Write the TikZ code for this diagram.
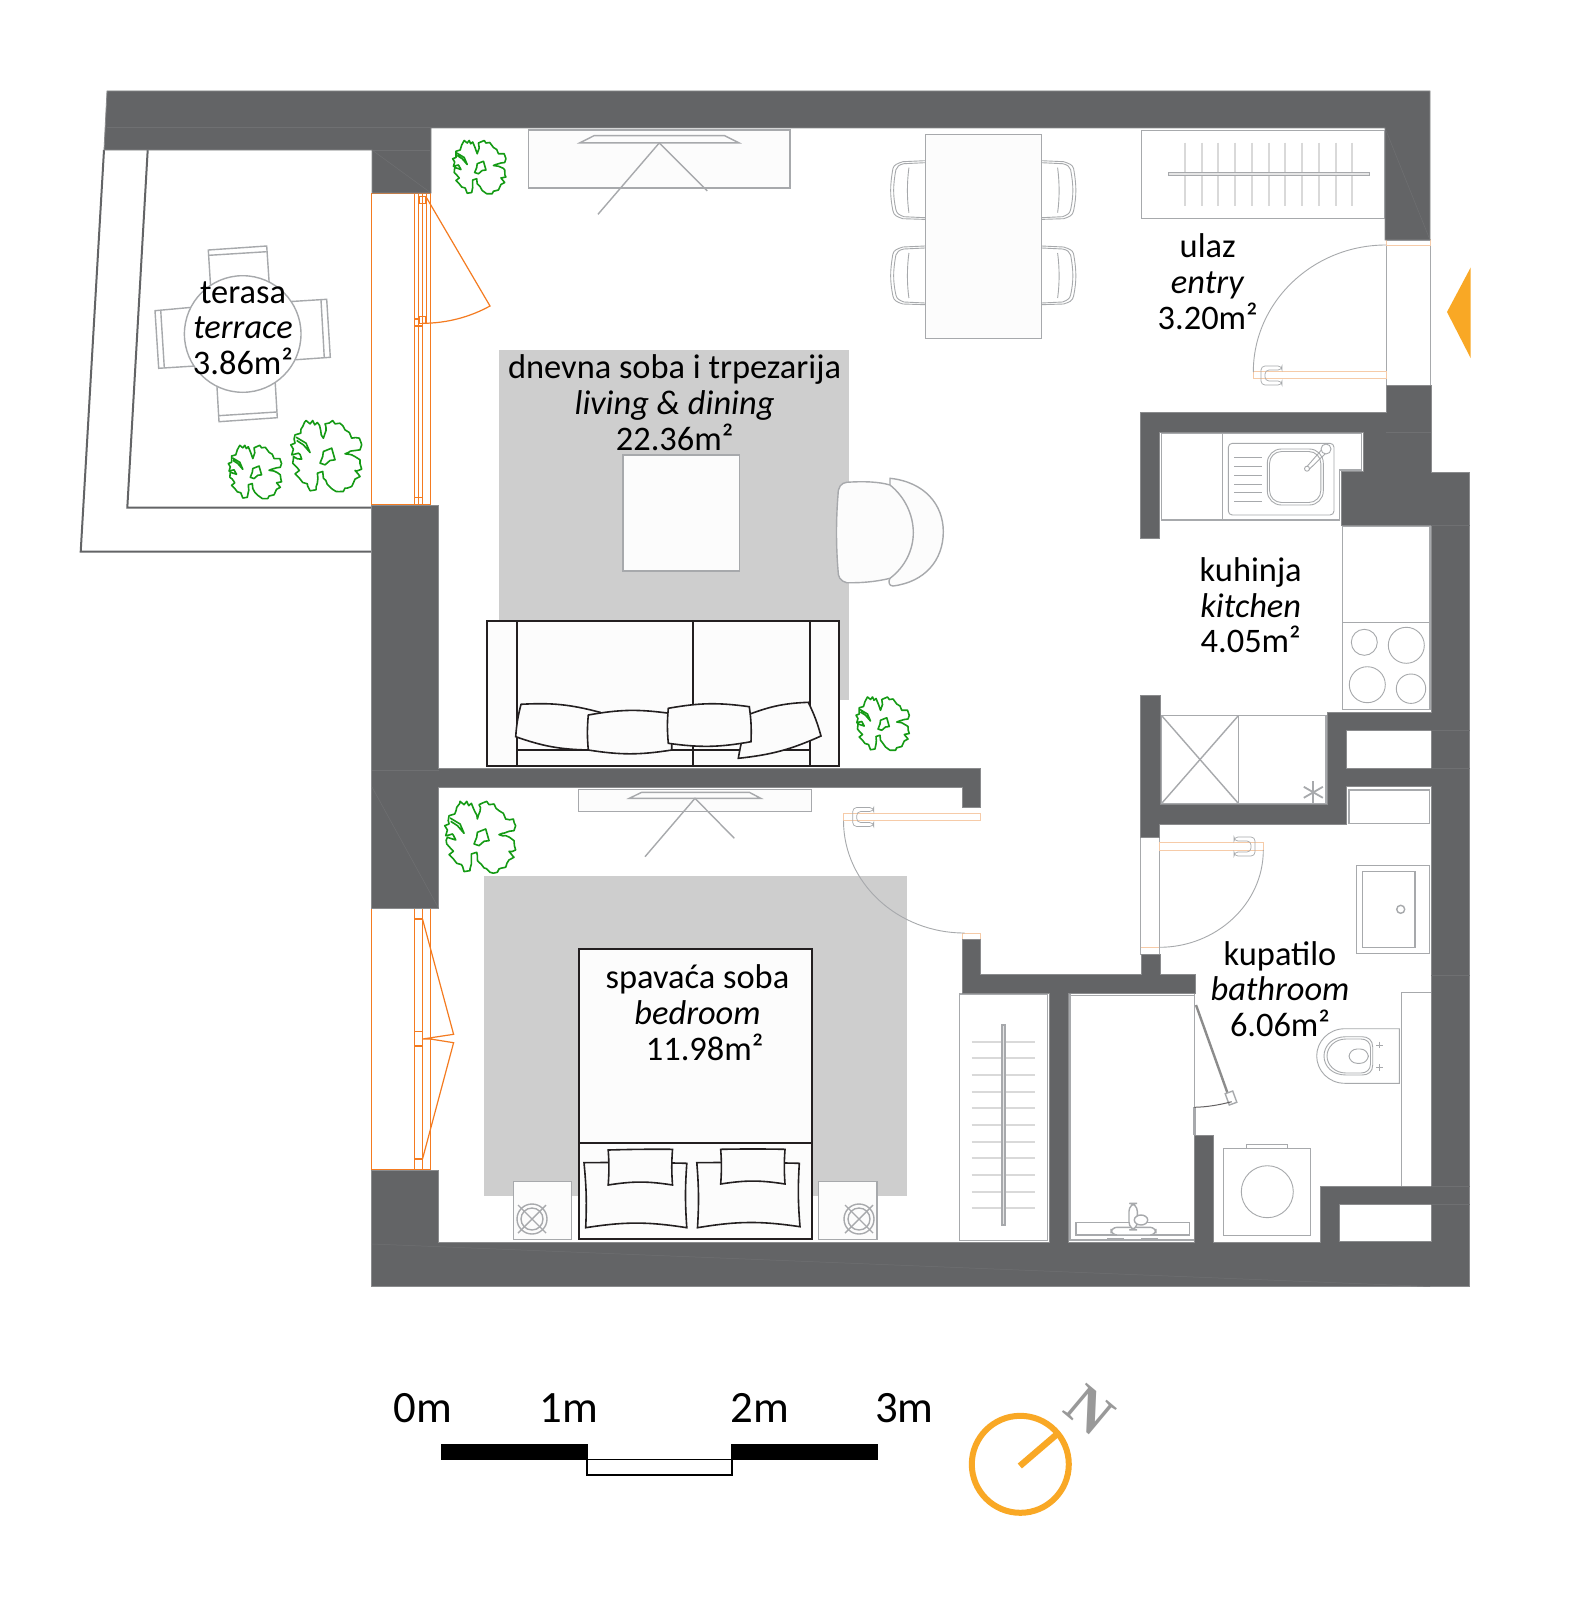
\documentclass[tikz,border=0pt]{standalone}
\usepackage{fontspec}
\usetikzlibrary{decorations.pathmorphing}
\setmainfont{Carlito}
\newfontfamily\northfont{Liberation Serif}
\definecolor{wallgray}{HTML}{636466}
\definecolor{walledge}{HTML}{8A8B8D}
\definecolor{wallseam}{HTML}{6F7072}
\definecolor{furngray}{HTML}{A7A9AC}
\definecolor{ruggray}{HTML}{CECECE}
\definecolor{paper}{HTML}{FCFCFC}
\definecolor{winorange}{HTML}{F47B20}
\definecolor{leaforange}{HTML}{F6CBA8}
\definecolor{markorange}{HTML}{F9A825}
\definecolor{plantgreen}{HTML}{149A14}
\definecolor{inkblack}{HTML}{231F20}

\newcommand{\pillow}[4]{\draw[pillow] (#1) to[bend left=9] (#2) to[bend left=5] (#3) to[bend left=9] (#4) to[bend left=5] cycle;}
\newcommand{\bedpillow}[4]{\draw[pillow] (#1) to[bend left=1] (#2) to[bend right=4] (#3) to[bend right=9] (#4) to[bend right=4] cycle;}

\tikzset{
    plant/.pic = {
        \draw[plantline, shift={(-140,-140)}, decorate, decoration={random steps, segment length=2.2pt, amplitude=0.5pt}] (45,75) -- (62,70) -- (68,50) -- (78,32) -- (90,42) -- (98,32) -- (104,45) -- (112,38) -- (122,62) -- (130,85) -- (138,62) -- (135,42) -- (158,32) -- (165,42) -- (180,40) -- (195,60) -- (208,68) -- (215,85) -- (238,85) -- (245,105) -- (240,120) -- (225,122) -- (205,128) -- (195,132) -- (215,135) -- (240,150) -- (245,178) -- (225,182) -- (240,200) -- (225,208) -- (215,230) -- (195,235) -- (190,245) -- (168,245) -- (150,232) -- (130,205) -- (128,185) -- (112,190) -- (112,220) -- (108,240) -- (90,243) -- (82,222) -- (68,218) -- (58,205) -- (45,192) -- (58,182) -- (38,160) -- (40,140) -- (65,148) -- (55,130) -- (35,135) -- (40,118) -- (32,105) -- (45,100) -- cycle;
        \draw[plantline, shift={(-140,-140)}] (120,160) -- (128,140) -- (130,125) -- (155,115) -- (165,150) -- (150,152) -- (135,165) -- cycle;
        \draw[plantline, shift={(-140,-140)}] (48,82) -- (78,100) -- (90,128) -- (70,105) -- (50,92);
    },
    doorhandle/.pic = {
        \draw[thinfurn, line width=0.35pt, rounded corners=2pt] (21,0) -- (0,0) -- (0,19) -- (21,19) -- (21,15) -- (4,15) -- (4,4) -- (21,4) -- cycle;
    },
    diningchair/.pic = {
        \draw[thinfurn] (0,0) -- (-22,1) .. controls (-28,3) and (-31,4) .. (-32,8) .. controls (-35,25) and (-35,35) .. (-32,50) .. controls (-31,55) and (-28,56) .. (-22,58) -- (0,58.7);
        \draw[thinfurn] (0,2) -- (-21,3) .. controls (-26,4) and (-28,6) .. (-29,9) .. controls (-32,25) and (-32,35) .. (-29,49) .. controls (-28,53) and (-26,54) .. (-21,56) -- (0,57);
        \draw[thinfurn] (-16,7) .. controls (-18,22) and (-18,38) .. (-16,52);
    },
    nightlamp/.pic = {
        \draw[furn] (0,0) circle[radius=15];
        \draw[furn] (0,0) circle[radius=11];
        \draw[furn] (-14,-14) -- (14,14);
        \draw[furn] (-14,14) -- (14,-14);
    }
}

\begin{document}
\begin{tikzpicture}[
        x = 0.5pt,
        y = -0.5pt,
        wall/.style = {fill=wallgray, draw=walledge, line width=0.4pt},
        seam/.style = {draw=wallseam, line width=0.25pt},
        rug/.style = {fill=ruggray},
        furn/.style = {draw=furngray, line width=0.7pt},
        thinfurn/.style = {draw=furngray, line width=0.45pt},
        panel/.style = {furn, fill=paper},
        blackfurn/.style = {draw=inkblack, line width=0.9pt, fill=paper},
        pillow/.style = {draw=inkblack, line width=0.8pt, fill=paper},
        hanger/.style = {draw=black!15, line width=1pt},
        winline/.style = {draw=winorange, line width=0.6pt},
        leafline/.style = {draw=leaforange, line width=0.5pt},
        plantline/.style = {draw=plantgreen, line width=0.8pt, line join=round},
        terraceline/.style = {draw=wallgray, line width=1pt},
        roomlabel/.style = {font=\fontsize{17.2}{17.85}\selectfont, align=center, inner sep=0pt},
        scalelabel/.style = {font=\fontsize{22.4}{23}\selectfont, inner sep=0pt}
    ]
    \fill[white] (0,0) rectangle (1583,1600);

    % rugs
    \fill[rug] (499,350) rectangle (849,700);
    \fill[rug] (484,875.5) rectangle (906.5,1196);

    % terrace
    \draw[terraceline] (104,150) -- (80.7,551.7) -- (372,551.7);
    \draw[terraceline] (147.7,150) -- (127.3,507.7) -- (372,507.7);
    \draw[furn] (208.3,250) -- (266.7,246) -- (269.3,285) -- (210.7,288) -- cycle;
    \draw[furn] (209,255.3) -- (266.7,251.7);
    \draw[furn] (216.7,382) -- (219,421.7) -- (277.3,417.7) -- (275,379) -- cycle;
    \draw[furn] (218.3,415.7) -- (276.7,412);
    \draw[furn] (155,310.7) -- (158.7,368.3) -- (195,366) -- (192,307.3) -- cycle;
    \draw[furn] (160.7,310) -- (164.3,367.7);
    \draw[furn] (288,301.7) -- (326.7,299.3) -- (330.3,357.3) -- (292,360) -- cycle;
    \draw[furn] (321,300) -- (324.3,358);
    \draw[furn, fill=white] (242.7,334) circle[radius=58.3];

    % living room
    \draw[panel] (528.5,130) rectangle (790,188);
    \draw[furn] (579.7,142.9) -- (594,135.7) -- (724.6,135.7) -- (739,142.9) -- cycle;
    \draw[furn] (598,214.3) -- (659.3,142.9) -- (707.3,190.9);
    \draw[panel] (623,455) rectangle (739.3,571);
    \draw[panel] (890,478.3) .. controls (925,482) and (943.3,505) .. (943.3,531.7) .. controls (943.3,560) and (925,582) .. (893,586) .. controls (889,586) and (888,582) .. (890,578) -- cycle;
    \draw[panel] (846.7,482.3) .. controls (865,481) and (880,482) .. (890,485) .. controls (905,497) and (913.3,515) .. (913.3,532.7) .. controls (913.3,550) and (905,567) .. (890,578.3) .. controls (875,582) and (860,583) .. (846.7,582.7) .. controls (840,581) and (838,577) .. (838,570) .. controls (836,545) and (836,520) .. (838,495) .. controls (838,487) and (841,483) .. (846.7,482.3) -- cycle;
    \draw[blackfurn] (486.7,620.7) rectangle (839.3,766.3);
    \draw[blackfurn, fill=none] (516.7,620.7) -- (516.7,766.3);
    \draw[blackfurn, fill=none] (693.3,620.7) -- (693.3,766.3);
    \draw[blackfurn, fill=none] (810,620.7) -- (810,766.3);
    \draw[blackfurn, fill=none] (516.7,750.3) -- (810,750.3);
    \pillow{521,704.3}{600,712.3}{588.3,750}{515.7,736.7}
    \pillow{750,714}{808.3,702.3}{821,736}{738.3,758.3}
    \pillow{588.3,715}{669.3,713.3}{671.7,750}{588.3,750}
    \pillow{668.3,708.3}{749.3,706.7}{751,741.7}{668.3,743.3}
    \draw[panel, draw=furngray, line width=0.5pt] (925,134.3) rectangle (1041.6,338.7);
    \pic at (924.9,160.7) {diningchair};
    \pic at (924.9,246) {diningchair};
    \pic[xscale=-1] at (1041.6,160.7) {diningchair};
    \pic[xscale=-1] at (1041.6,246) {diningchair};

    % entry
    \draw[furn] (1141.6,130.7) rectangle (1384.4,218.3);
    \foreach \i in {0,...,10} {
        \draw[hanger] ({1185+16.73*\i},142.7) -- ({1185+16.73*\i},205.7);
    }
    \draw[furn, fill=black!10] (1168.4,172.5) rectangle (1369.2,175.5);
    \draw[thinfurn] (1386,240) rectangle (1430.3,385);
    \draw[leafline] (1386,239) rectangle (1430.3,245);
    \draw[leafline] (1253.3,371.3) rectangle (1386.3,378.3);
    \draw[thinfurn] (1386,245) .. controls (1313,245) and (1253.3,302) .. (1253.3,372);
    \pic at (1261,366) {doorhandle};
    \fill[markorange] (1447,312) -- (1470.7,267.4) -- (1470.7,358.2) -- cycle;

    % kitchen
    \draw[furn, fill=white] (1161.7,433.3) -- (1361.7,433.3) -- (1361.7,470) -- (1339.3,470) -- (1339.3,520) -- (1161.7,520) -- cycle;
    \draw[thinfurn] (1222.5,433.3) -- (1222.5,520);
    \draw[thinfurn, rounded corners=2pt] (1228.3,443.3) rectangle (1334,515);
    \draw[thinfurn, rounded corners=7pt] (1267.3,449) rectangle (1323.3,505);
    \draw[thinfurn, rounded corners=6pt] (1269.5,451.5) rectangle (1320.8,502.5);
    \foreach \y in {457.7,466.7,475.3,484,492.7,501.3} {
        \draw[thinfurn] (1234,\y) -- (1262,\y);
    }
    \draw[thinfurn] (1307,466.5) -- (1324,447);
    \draw[thinfurn] (1308.5,470) -- (1328,451);
    \draw[thinfurn, fill=white] (1326,449) circle[radius=5];
    \draw[thinfurn, fill=white] (1307,468.7) circle[radius=2.5];
    \draw[furn] (1342.3,526) rectangle (1430,709.3);
    \draw[thinfurn] (1342.3,622) -- (1430,622);
    \draw[thinfurn] (1364.3,642.3) circle[radius=13];
    \draw[thinfurn] (1406.3,645.3) circle[radius=18];
    \draw[thinfurn] (1367.3,684.7) circle[radius=18];
    \draw[thinfurn] (1411,688.7) circle[radius=14.7];
    \draw[furn] (1161.7,715.7) rectangle (1326,803.3);
    \draw[thinfurn] (1238.3,715.7) -- (1238.3,803.3);
    \draw[furn] (1161.7,715.7) -- (1238.3,803.3);
    \draw[furn] (1161.7,803.3) -- (1238.3,715.7);
    \foreach \a in {90,30,150} {
        \draw[furn, line width=0.9pt, shift={(1313.3,792.3)}] (\a:11) -- (\a+180:11);
    }
    \draw[furn] (1349,790) rectangle (1429.3,823.3);

    % bathroom
    \draw[thinfurn] (1140.7,836.7) rectangle (1159.3,954);
    \draw[leafline] (1159.3,842.7) rectangle (1263.3,850.7);
    \draw[leafline] (1140.7,947.5) -- (1159.3,947.5);
    \draw[thinfurn] (1263.3,850) .. controls (1263.3,904) and (1216,947.3) .. (1159.3,947.3);
    \pic[xscale=-1] at (1255,837) {doorhandle};
    \draw[furn] (1356.7,865.7) rectangle (1429.3,953.3);
    \draw[furn] (1362.3,871.7) rectangle (1415,947.3);
    \draw[furn] (1400.7,909.3) circle[radius=4];
    \draw[furn] (1431,992.7) -- (1401.7,992.7) -- (1401.7,1186);
    \draw[thinfurn] (1399.3,1028.7) -- (1345,1028.7) .. controls (1328,1028.7) and (1316.7,1042) .. (1316.7,1056) .. controls (1316.7,1070) and (1328,1083.3) .. (1345,1083.3) -- (1399.3,1083.3) -- cycle;
    \draw[thinfurn] (1372.7,1047) .. controls (1372.7,1040) and (1368,1036.7) .. (1362,1036.7) -- (1346,1036.7) .. controls (1332,1036.7) and (1324,1046) .. (1324,1056) .. controls (1324,1066) and (1332,1075) .. (1346,1075) -- (1362,1075) .. controls (1368,1075) and (1372.7,1072) .. (1372.7,1065) -- cycle;
    \draw[thinfurn] (1370.5,1048) .. controls (1370.5,1042) and (1366,1039) .. (1361,1039) -- (1346,1039) .. controls (1335,1039) and (1327,1047) .. (1327,1056) .. controls (1327,1065) and (1335,1073) .. (1346,1073) -- (1361,1073) .. controls (1366,1073) and (1370.5,1070) .. (1370.5,1064) -- cycle;
    \draw[thinfurn, rounded corners=4pt] (1349,1049) rectangle (1368.3,1063.3);
    \foreach \y in {1045,1067.3} {
        \draw[thinfurn] (1376,\y) -- (1382.6,\y);
        \draw[thinfurn] (1379.3,\y-3.3) -- (1379.3,\y+3.3);
    }
    \draw[thinfurn] (1223.3,1148.3) rectangle (1310.7,1235.3);
    \draw[thinfurn] (1246.7,1148.3) rectangle (1287.3,1144.7);
    \draw[thinfurn] (1267.3,1191.7) circle[radius=26];

    % shower
    \draw[furn] (1070,994) -- (1070,1240) -- (1194.3,1240);
    \draw[furn] (1070,995.5) -- (1194.3,995.5);
    \draw[furn] (1194.3,993.3) -- (1194.3,1135);
    \draw[furn, line width=1.2pt] (1194.3,1107.3) -- (1194.3,1135);
    \draw[furn, draw=black!45, line width=1.2pt] (1196,1005) -- (1230,1100);
    \draw[furn, fill=white, rotate around={20:(1231,1098)}] (1227,1092) rectangle (1235,1104);
    \draw[inkblack!70, line width=0.5pt] (1231.7,1101.7) .. controls (1219,1105) and (1207,1107) .. (1194.3,1107.3);
    \draw[furn] (1076,1222.7) rectangle (1189.3,1235);
    \draw[furn, fill=white, rounded corners=3pt] (1111,1227.3) rectangle (1156,1235);
    \draw[furn, fill=white, rounded corners=4pt] (1129,1203.3) rectangle (1137.3,1230);
    \draw[furn, fill=white] (1141,1220) ellipse[x radius=6.7, y radius=5];
    \draw[furn] (1107,1239) -- (1124,1239);
    \draw[furn] (1141,1239) -- (1158,1239);

    % bedroom
    \draw[panel] (578.3,789.3) rectangle (811.7,811.3);
    \draw[furn] (629.3,798.3) -- (641.7,792.3) -- (749.3,792.3) -- (760.7,798.3) -- cycle;
    \draw[furn] (645,856.7) -- (695,798.3) -- (734.3,838.3);
    \draw[leafline] (843.5,813.3) rectangle (980.8,820.7);
    \draw[leafline] (962.4,933) rectangle (980.8,939);
    \draw[thinfurn] (843.5,820.7) .. controls (843.5,883) and (897.8,933) .. (964.5,933);
    \pic at (852.7,807.5) {doorhandle};
    \draw[blackfurn] (578.6,949) rectangle (811.8,1239.3);
    \draw[blackfurn, fill=none] (578.6,1142.7) -- (811.8,1142.7);
    \bedpillow{584,1162.7}{686.8,1163.3}{686.8,1227.7}{585.7,1227.7}
    \bedpillow{696.8,1162.7}{799.3,1163.3}{800,1226.7}{697.5,1227.7}
    \bedpillow{608.2,1150}{672.5,1149.3}{672.5,1185}{608.2,1185}
    \bedpillow{720.7,1149.3}{785,1149.3}{785,1184}{720.7,1184}
    \draw[panel] (513.2,1181.7) rectangle (571.4,1239.3);
    \draw[panel] (818.6,1181.7) rectangle (876.8,1239.3);
    \pic at (532,1219) {nightlamp};
    \pic at (859,1219) {nightlamp};
    \draw[furn] (959.4,994) rectangle (1047.5,1240.5);
    \foreach \i in {0,...,10} {
        \draw[hanger] (971.6,{1041.7+16.67*\i}) -- (1035,{1041.7+16.67*\i});
    }
    \draw[furn, fill=black!10] (1001.8,1025) rectangle (1004.8,1225);

    % windows
    \draw[winline] (371.7,193.3) rectangle (430.7,505);
    \draw[winline] (414.3,193.3) -- (414.3,505);
    \draw[winline] (418.3,193.3) -- (418.3,505);
    \draw[winline] (422.3,193.3) -- (422.3,505);
    \draw[winline] (426.7,193.3) -- (426.7,320);
    \draw[winline] (419,196.7) rectangle (426,203.3);
    \draw[winline] (419,316.7) rectangle (426,323.3);
    \draw[winline] (414.3,319) -- (419,319);
    \draw[winline] (414.3,326) -- (422.3,326);
    \draw[winline] (414.3,497.5) -- (422.3,497.5);
    \draw[winline] (426.7,198) -- (490,306) .. controls (470,317) and (447,323.3) .. (422.3,323.3);
    \draw[winline] (371.8,908) rectangle (430.4,1170);
    \draw[winline] (414.6,908) -- (414.6,1170);
    \draw[winline] (422.5,908) -- (422.5,1170);
    \foreach \y in {919,1031.7,1046,1159} {
        \draw[winline] (414.6,\y) -- (422.5,\y);
    }
    \draw[winline] (422.5,919) -- (453.6,1034.3) -- (422.5,1039) -- (430.4,1039) -- (453.6,1042.7) -- (422.5,1159);

    % walls
    \path[wall] (107,91) -- (1430,91) -- (1430,240) -- (1385,240) -- (1385,128) -- (431,128) -- (431,193) -- (372,193) -- (372,150) -- (104,150) -- cycle;
    \path[wall] (1386,385) -- (1431,385) -- (1431,472) -- (1469.5,472) -- (1469.5,1286.5) -- (371.5,1286.5) -- (371.5,1170) -- (438.5,1170) -- (438.5,1242) -- (1049.3,1242) -- (1049.3,993.3) -- (962.4,993.3) -- (962.4,939) -- (980.8,939) -- (980.8,974) -- (1141,974) -- (1141,954) -- (1160,954) -- (1160,974) -- (1195.7,974) -- (1195.7,993.3) -- (1068.3,993.3) -- (1068.3,1242) -- (1194.3,1242) -- (1194.3,1135) -- (1213.3,1135) -- (1213.3,1242) -- (1320.7,1242) -- (1320.7,1186) -- (1431.7,1186) -- (1431.7,786.7) -- (1346.7,786.7) -- (1346.7,824) -- (1159.3,824) -- (1159.3,837) -- (1140.7,837) -- (1140.7,695) -- (1160,695) -- (1160,804) -- (1327.7,804) -- (1327.7,712) -- (1431,712) -- (1431,525) -- (1341,525) -- (1341,471) -- (1363.5,471) -- (1363.5,432) -- (1159.3,432) -- (1159.3,538) -- (1140.7,538) -- (1140.7,412) -- (1386,412) -- cycle;
    \path[wall] (371.5,505) -- (438.5,505) -- (438.5,768.5) -- (980.8,768.5) -- (980.8,807) -- (962.4,807) -- (962.4,787) -- (438.5,787) -- (438.5,908) -- (371.5,908) -- cycle;
    \draw[wall, fill=white] (1346.7,730.7) rectangle (1431.7,768.3);
    \draw[wall, fill=white] (1339.3,1204) rectangle (1431.7,1241.7);
    \draw[seam] (107,127.5) -- (431,127.5);
    \draw[seam] (372,150) -- (431,193);
    \draw[seam] (372,150) -- (431,150);
    \draw[seam] (1385,128) -- (1430,240);
    \draw[seam] (1431,432) -- (1386,432);
    \draw[seam] (1431,525) -- (1469.5,525);
    \draw[seam] (1431,730.7) -- (1469.5,730.7);
    \draw[seam] (1431,768.3) -- (1469.5,768.3);
    \draw[seam] (1431,975) -- (1469.5,975);
    \draw[seam] (1431,1186) -- (1469.5,1186);
    \draw[seam] (1431,1204) -- (1469.5,1204);
    \draw[seam] (372,1244) -- (1430,1286.5);
    \draw[seam] (372,770) -- (438.5,770);
    \draw[seam] (372,787) -- (438.5,908);

    % plants
    \pic[scale=0.25] at (479.7,167.5) {plant};
    \pic[scale=0.25] at (255.3,472.3) {plant};
    \pic[scale=0.333] at (326.7,456.5) {plant};
    \pic[scale=0.25] at (883,724) {plant};
    \pic[scale=0.333] at (480.7,837.3) {plant};

    % room names
    \node[roomlabel] (terrace) at (243,328) {terasa\\\textit{terrace}\\3.86m²};
    \node[roomlabel] (living) at (674.6,402.5) {dnevna soba i trpezarija\\\textit{living \& dining}\\22.36m²};
    \node[roomlabel] (entry) at (1207.7,281.5) {ulaz\\\textit{entry}\\3.20m²};
    \node[roomlabel] (kitchen) at (1250.7,605.4) {kuhinja\\\textit{kitchen}\\4.05m²};
    \node[roomlabel] (bathroom) at (1280,989) {kupatilo\\\textit{bathroom}\\6.06m²};
    \node[roomlabel] (bedroom) at (697.5,1012.5) {spavaća soba\\\textit{bedroom}\\\hspace*{2.5mm}11.98m²};

    % scale
    \fill[black] (440.6,1444) rectangle (587.5,1460);
    \fill[black] (731.4,1444) rectangle (878.3,1460);
    \draw[black, line width=0.8pt] (587.2,1459.5) rectangle (732.2,1475);
    \node[scalelabel] (zero) at (422.7,1408) {0m};
    \node[scalelabel] (one) at (569,1408) {1m};
    \node[scalelabel] (two) at (759.6,1408) {2m};
    \node[scalelabel] (three) at (904.5,1408) {3m};

    % compass
    \draw[markorange, line width=3pt] (1020.3,1464.3) circle[radius=48.5];
    \draw[markorange, line width=3.2pt] (1019.8,1466) -- (1056,1435);
    \node[black!40, font=\northfont\bfseries\fontsize{29}{29}\selectfont, rotate=-40, inner sep=0pt] (north) at (1090,1410) {N};
\end{tikzpicture}
\end{document}
